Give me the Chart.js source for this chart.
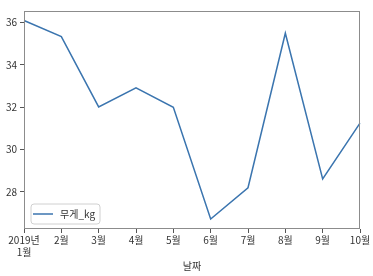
<!DOCTYPE html>
<html><head><meta charset="utf-8">
<script src="https://cdn.jsdelivr.net/npm/chart.js@4"></script>
<style>html,body{margin:0;padding:0;background:#fff}#w{width:373px;height:276px}</style>
</head><body><div id="w"><canvas id="c"></canvas></div>
<script>
const categories = [['2019년','1월'],'2월','3월','4월','5월','6월','7월','8월','9월','10월'];
const weights = [36.1, 35.34, 32.02, 32.92, 32.0, 26.72, 28.2, 35.5, 28.62, 31.25];
const yTicks = [28, 30, 32, 34, 36];
const seriesName = '무게_kg';
const xTitle = '날짜';
const FONT = "'Noto Sans CJK KR', 'DejaVu Sans', sans-serif";

const framePlugin = {
  id: 'frame',
  afterDraw(chart) {
    const {ctx, chartArea: a} = chart;
    ctx.save();
    ctx.strokeStyle = '#8c8c8c';
    ctx.lineWidth = 1;
    ctx.strokeRect(Math.round(a.left)+0.5, Math.round(a.top)+0.5, Math.round(a.right-a.left)-1, Math.round(a.bottom-a.top)-1);
    // legend
    const x = a.left + 7, y = a.bottom - 25, w = 69, h = 20, r = 3;
    ctx.beginPath();
    ctx.moveTo(x+r, y); ctx.lineTo(x+w-r, y); ctx.quadraticCurveTo(x+w, y, x+w, y+r);
    ctx.lineTo(x+w, y+h-r); ctx.quadraticCurveTo(x+w, y+h, x+w-r, y+h);
    ctx.lineTo(x+r, y+h); ctx.quadraticCurveTo(x, y+h, x, y+h-r);
    ctx.lineTo(x, y+r); ctx.quadraticCurveTo(x, y, x+r, y); ctx.closePath();
    ctx.fillStyle = 'rgba(255,255,255,0.8)'; ctx.fill();
    ctx.strokeStyle = '#d0d0d0'; ctx.stroke();
    ctx.beginPath();
    ctx.moveTo(x+2, y+h/2); ctx.lineTo(x+22, y+h/2);
    ctx.strokeStyle = '#3b75af'; ctx.lineWidth = 1.5; ctx.stroke();
    ctx.fillStyle = '#333'; ctx.font = '10px ' + FONT;
    ctx.textBaseline = 'middle'; ctx.textAlign = 'left';
    ctx.fillText(seriesName, x+29, y+h/2);
    ctx.restore();
  }
};

new Chart(document.getElementById('c'), {
  type: 'line',
  data: { labels: categories, datasets: [{ label: seriesName, data: weights, borderColor: '#3b75af', borderWidth: 1.5, pointRadius: 0, tension: 0, fill: false }] },
  options: {
    responsive: true, maintainAspectRatio: false, animation: false,
    layout: { padding: { top: 11, right: 13, left: 0, bottom: 0 } },
    plugins: { legend: { display: false }, tooltip: { enabled: false } },
    scales: {
      x: {
        type: 'category', offset: false,
        grid: { drawOnChartArea: false, drawTicks: true, tickLength: 4, color: '#555' },
        border: { display: false },
        ticks: { color: '#333', font: { size: 10, family: FONT }, padding: 1, maxRotation: 0, autoSkip: false },
        title: { display: true, text: xTitle, color: '#333', font: { size: 10, family: FONT }, padding: { top: 1, bottom: 4 } },
        afterFit(s) { s.height = 47; }
      },
      y: {
        min: 26.25, max: 36.55,
        afterBuildTicks(s) { s.ticks = yTicks.map(v => ({ value: v })); },
        grid: { drawOnChartArea: false, drawTicks: true, tickLength: 4, color: '#555' },
        border: { display: false },
        ticks: { color: '#333', font: { size: 10, family: FONT }, padding: 3 },
        afterFit(s) { s.width = 24; }
      }
    }
  },
  plugins: [framePlugin]
});
</script></body></html>
